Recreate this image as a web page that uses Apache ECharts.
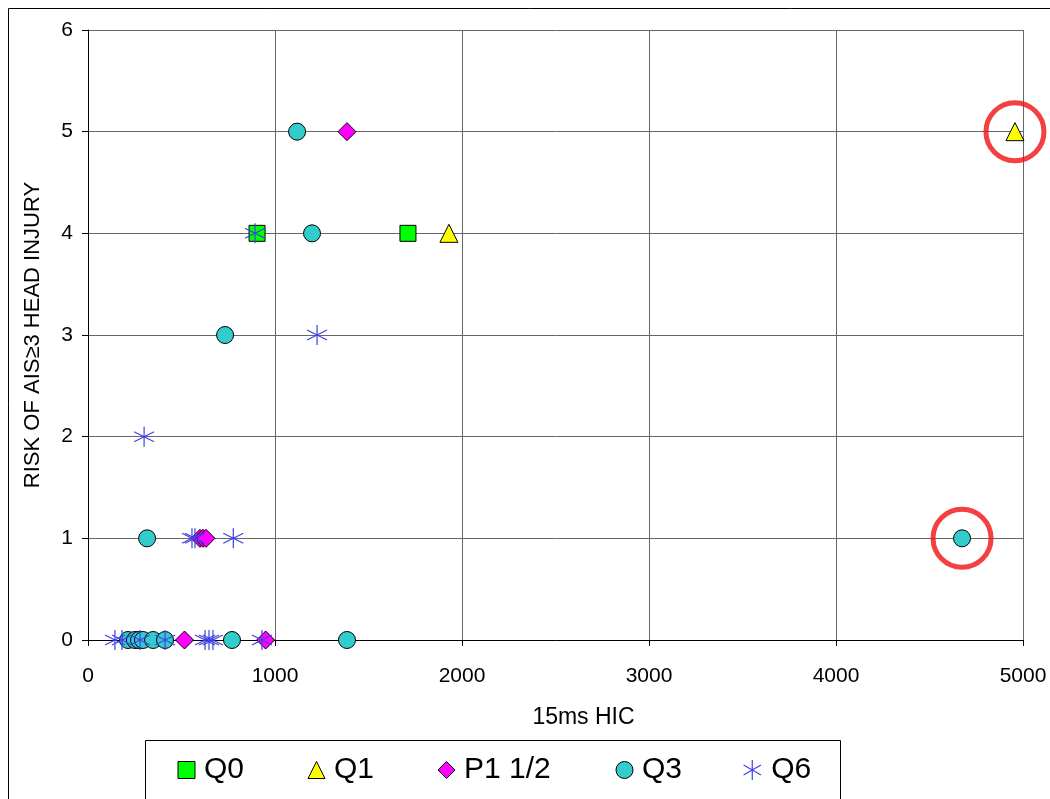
<!DOCTYPE html>
<html>
<head>
<meta charset="utf-8">
<title>Risk of AIS≥3 head injury vs 15ms HIC</title>
<script src="https://cdn.jsdelivr.net/npm/echarts@6/dist/echarts.min.js"></script>
<style>
  html, body { margin: 0; padding: 0; background: #ffffff; }
  #chart { width: 1050px; height: 799px; }
</style>
</head>
<body>
<div id="chart"></div>
<script>
// [15ms HIC, risk level] per dummy type
const q0 = [[904, 4], [1711, 4]];
const q1 = [[1930, 4], [4957, 5]];
const p1half = [[1385, 5], [599, 1], [615, 1], [631, 1], [516, 0], [950, 0]];
const q3 = [[1118, 5], [1198, 4], [733, 3], [316, 1], [4674, 1],
            [214, 0], [251, 0], [273, 0], [294, 0], [348, 0], [412, 0], [770, 0], [1385, 0]];
const q6 = [[893, 4], [1225, 3], [300, 2], [556, 1], [572, 1], [777, 1],
            [144, 0], [182, 0], [278, 0], [412, 0], [626, 0], [647, 0], [668, 0], [930, 0]];
// points ringed in red
const ringed = [[4957, 5], [4674, 1]];

const xTicks = [0, 1000, 2000, 3000, 4000, 5000];
const yTicks = [0, 1, 2, 3, 4, 5, 6];

const FONT = '"Liberation Sans", Arial, sans-serif';
const STAR = 'path://M0,-10L0,10M-8.66,-5L8.66,5M-8.66,5L8.66,-5';

const seriesDefs = [
  { name: 'Q0', data: q0, symbol: 'rect', size: 16, color: '#00ff00', border: '#000' },
  { name: 'Q1', data: q1, symbol: 'triangle', size: 18, color: '#ffff00', border: '#000' },
  { name: 'P1 1/2', data: p1half, symbol: 'diamond', size: 18, color: '#ff00ff', border: '#000' },
  { name: 'Q3', data: q3, symbol: 'circle', size: 17, color: '#33cccc', border: '#000' },
  { name: 'Q6', data: q6, symbol: STAR, size: 20, color: 'rgba(0,0,0,0)', border: '#4040e8' }
];

// icon centres of the legend entries
const legendCentre = [186, 316, 446, 624, 753];

const chart = echarts.init(document.getElementById('chart'), null, { renderer: 'canvas' });

const series = seriesDefs.map(d => ({
  name: d.name,
  type: 'scatter',
  data: d.data,
  symbol: d.symbol,
  symbolSize: d.size,
  itemStyle: { color: d.color, borderColor: d.border, borderWidth: d.symbol === STAR ? 1.2 : 1, opacity: 1 },
  emphasis: { disabled: true },
  animation: false
}));

series.push({
  name: 'ring',
  type: 'scatter',
  data: ringed,
  symbol: 'circle',
  symbolSize: 58,
  itemStyle: { color: 'rgba(0,0,0,0)', borderColor: '#f01010', borderWidth: 5 },
  emphasis: { disabled: true },
  z: 1,
  animation: false
});

const legends = seriesDefs.map((d, i) => {
  const w = d.symbol === STAR ? 20 : 17;
  return {
    data: [{ name: d.name, icon: d.symbol, itemStyle: { color: d.color, borderColor: d.border, borderWidth: d.symbol === STAR ? 1.2 : 1 } }],
    left: legendCentre[i] - w / 2,
    top: 755,
    itemWidth: w,
    itemHeight: w,
    itemGap: 0,
    padding: 0,
    selectedMode: false,
    textStyle: { fontFamily: FONT, fontSize: 30, color: '#000', padding: [0, 0, 0, 4] }
  };
});

chart.setOption({
  backgroundColor: '#ffffff',
  animation: false,
  grid: { left: 88, right: 27, top: 30, bottom: 159 },
  legend: legends,
  xAxis: {
    type: 'value',
    min: xTicks[0],
    max: xTicks[xTicks.length - 1],
    interval: 1000,
    name: '15ms HIC',
    nameLocation: 'middle',
    nameGap: 66,
    nameTextStyle: { fontFamily: FONT, fontSize: 23, color: '#000', padding: [0, 0, 0, 56] },
    axisLine: { show: true, onZero: false, lineStyle: { color: '#000', width: 1 } },
    axisTick: { show: true, length: 6, inside: false, lineStyle: { color: '#000' } },
    axisLabel: { fontFamily: FONT, fontSize: 21, color: '#000', margin: 26, formatter: v => String(v) },
    splitLine: { show: true, lineStyle: { color: '#666', width: 1 } }
  },
  yAxis: {
    type: 'value',
    min: yTicks[0],
    max: yTicks[yTicks.length - 1],
    interval: 1,
    name: 'RISK OF AIS≥3 HEAD INJURY',
    nameLocation: 'middle',
    nameGap: 44,
    nameTextStyle: { fontFamily: FONT, fontSize: 22, color: '#000' },
    axisLine: { show: true, onZero: false, lineStyle: { color: '#000', width: 1 } },
    axisTick: { show: true, length: 6, inside: false, lineStyle: { color: '#000' } },
    axisLabel: { fontFamily: FONT, fontSize: 21, color: '#000', margin: 15, formatter: v => String(v) },
    splitLine: { show: true, lineStyle: { color: '#666', width: 1 } }
  },
  graphic: [
    {
      type: 'rect',
      shape: { x: 8.5, y: 8.5, width: 1100, height: 1000 },
      style: { fill: 'none', stroke: '#000', lineWidth: 1 },
      silent: true,
      z: -10
    },
    {
      type: 'rect',
      shape: { x: 145.5, y: 740.5, width: 695, height: 70 },
      style: { fill: '#fff', stroke: '#000', lineWidth: 1 },
      silent: true,
      z: -5
    }
  ],
  series: series
});
</script>
</body>
</html>
